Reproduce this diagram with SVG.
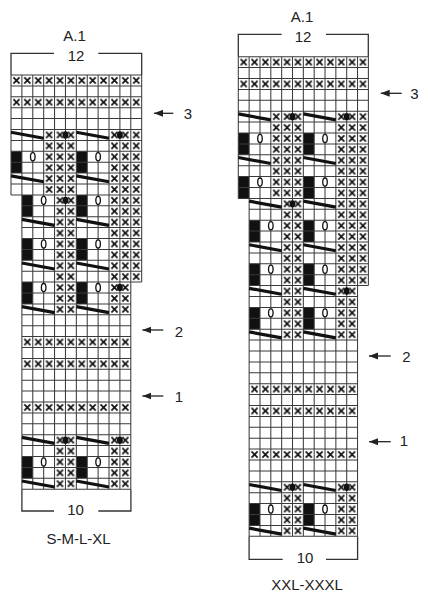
<svg xmlns="http://www.w3.org/2000/svg" xmlns:xlink="http://www.w3.org/1999/xlink" width="428" height="600" viewBox="0 0 428 600">
<style>
.x{fill:url(#xp)}
.blk{fill:#111}
.bg{fill:#fff}
.grid{fill:none;stroke:#3a3a3a;stroke-width:0.095}
.sl{fill:none;stroke:#111;stroke-width:0.29}
.o{fill:#fff;stroke:#111;stroke-width:0.12}
.dot{fill:#111}
.br{fill:none;stroke:#333;stroke-width:1.3}
.t{font-family:"Liberation Sans",Arial,sans-serif;font-size:15px;fill:#222;text-anchor:middle}
.arr{fill:none;stroke:#222;stroke-width:1.3}
</style>
<defs>
<pattern id="xp" patternUnits="userSpaceOnUse" width="1" height="1">
<path d="M0.22 0.22L0.78 0.78M0.78 0.22L0.22 0.78" stroke="#151515" stroke-width="0.16" fill="none"/>
</pattern>
<ellipse id="o" class="o" cx="0" cy="0" rx="0.21" ry="0.37"/>
<ellipse id="d" class="dot" cx="0" cy="0" rx="0.27" ry="0.34"/>
<marker id="ah" markerUnits="userSpaceOnUse" markerWidth="10" markerHeight="9" refX="9" refY="4.5" orient="auto">
<path d="M0 1L9 4.5L0 8z" fill="#222"/>
</marker>
</defs>

<g id="chart-left" transform="translate(11 75) scale(10.89 10.9)">
<path class="bg" d="M0 0H12V19H11V38H1V11H0Z"/>
<rect class="x" x="0" y="0" width="12" height="1"/>
<rect class="x" x="0" y="2" width="12" height="1"/>
<rect class="x" x="3" y="5" width="3" height="6"/>
<rect class="x" x="4" y="11" width="2" height="11"/>
<rect class="x" x="9" y="5" width="3" height="14"/>
<rect class="x" x="9" y="19" width="2" height="3"/>
<rect class="x" x="1" y="24" width="10" height="1"/>
<rect class="x" x="1" y="26" width="10" height="1"/>
<rect class="x" x="1" y="30" width="10" height="1"/>
<rect class="x" x="4" y="33" width="2" height="5"/>
<rect class="x" x="9" y="33" width="2" height="5"/>
<path class="blk" d="M0 7h1v2h-1zM6 7h1v2h-1zM1 11h1v2h-1zM6 11h1v2h-1zM1 15h1v2h-1zM6 15h1v2h-1zM1 19h1v2h-1zM6 19h1v2h-1zM1 35h1v2h-1zM6 35h1v2h-1z"/>
<path class="grid" d="M0 0H12M0 1H12M0 2H12M0 3H12M0 4H12M0 5H12M0 6H12M0 7H12M0 8H12M0 9H12M0 10H12M0 11H12M1 12H12M1 13H12M1 14H12M1 15H12M1 16H12M1 17H12M1 18H12M1 19H12M1 20H11M1 21H11M1 22H11M1 23H11M1 24H11M1 25H11M1 26H11M1 27H11M1 28H11M1 29H11M1 30H11M1 31H11M1 32H11M1 33H11M1 34H11M1 35H11M1 36H11M1 37H11M1 38H11M0 0V11M1 0V38M2 0V38M3 0V38M4 0V38M5 0V38M6 0V38M7 0V38M8 0V38M9 0V38M10 0V38M11 0V38M12 0V19"/>
<path class="sl" d="M0 5.25L3 5.8M6 5.25L9 5.8M0 9.25L3 9.8M6 9.25L9 9.8M1 13.25L4 13.8M6 13.25L9 13.8M1 17.25L4 17.8M6 17.25L9 17.8M1 21.25L4 21.8M6 21.25L9 21.8M1 33.25L4 33.8M6 33.25L9 33.8M1 37.25L4 37.8M6 37.25L9 37.8"/>
<use href="#o" x="2" y="7.5"/><use href="#o" x="8" y="7.5"/>
<use href="#o" x="3" y="11.5"/><use href="#o" x="8" y="11.5"/>
<use href="#o" x="3" y="15.5"/><use href="#o" x="8" y="15.5"/>
<use href="#o" x="3" y="19.5"/><use href="#o" x="8" y="19.5"/>
<use href="#o" x="3" y="35.5"/><use href="#o" x="8" y="35.5"/>
<use href="#d" x="5" y="5.5"/><use href="#d" x="10" y="5.5"/>
<use href="#d" x="5" y="11.5"/><use href="#d" x="10" y="19.5"/>
<use href="#d" x="5" y="33.5"/><use href="#d" x="10" y="33.5"/>
</g>

<g id="chart-right" transform="translate(238.3 56.7) scale(10.84 10.9)">
<path class="bg" d="M0 0H12V21H11V44H1V13H0Z"/>
<rect class="x" x="0" y="0" width="12" height="1"/>
<rect class="x" x="0" y="2" width="12" height="1"/>
<rect class="x" x="3" y="5" width="3" height="8"/>
<rect class="x" x="4" y="13" width="2" height="13"/>
<rect class="x" x="9" y="5" width="3" height="16"/>
<rect class="x" x="9" y="21" width="2" height="5"/>
<rect class="x" x="1" y="30" width="10" height="1"/>
<rect class="x" x="1" y="32" width="10" height="1"/>
<rect class="x" x="1" y="36" width="10" height="1"/>
<rect class="x" x="4" y="39" width="2" height="5"/>
<rect class="x" x="9" y="39" width="2" height="5"/>
<path class="blk" d="M0 7h1v2h-1zM6 7h1v2h-1zM0 11h1v2h-1zM6 11h1v2h-1zM1 15h1v2h-1zM6 15h1v2h-1zM1 19h1v2h-1zM6 19h1v2h-1zM1 23h1v2h-1zM6 23h1v2h-1zM1 41h1v2h-1zM6 41h1v2h-1z"/>
<path class="grid" d="M0 0H12M0 1H12M0 2H12M0 3H12M0 4H12M0 5H12M0 6H12M0 7H12M0 8H12M0 9H12M0 10H12M0 11H12M0 12H12M0 13H12M1 14H12M1 15H12M1 16H12M1 17H12M1 18H12M1 19H12M1 20H12M1 21H12M1 22H11M1 23H11M1 24H11M1 25H11M1 26H11M1 27H11M1 28H11M1 29H11M1 30H11M1 31H11M1 32H11M1 33H11M1 34H11M1 35H11M1 36H11M1 37H11M1 38H11M1 39H11M1 40H11M1 41H11M1 42H11M1 43H11M1 44H11M0 0V13M1 0V44M2 0V44M3 0V44M4 0V44M5 0V44M6 0V44M7 0V44M8 0V44M9 0V44M10 0V44M11 0V44M12 0V21"/>
<path class="sl" d="M0 5.25L3 5.8M6 5.25L9 5.8M0 9.25L3 9.8M6 9.25L9 9.8M1 13.25L4 13.8M6 13.25L9 13.8M1 17.25L4 17.8M6 17.25L9 17.8M1 21.25L4 21.8M6 21.25L9 21.8M1 25.25L4 25.8M6 25.25L9 25.8M1 39.25L4 39.8M6 39.25L9 39.8M1 43.25L4 43.8M6 43.25L9 43.8"/>
<use href="#o" x="2" y="7.5"/><use href="#o" x="8" y="7.5"/>
<use href="#o" x="2" y="11.5"/><use href="#o" x="8" y="11.5"/>
<use href="#o" x="3" y="15.5"/><use href="#o" x="8" y="15.5"/>
<use href="#o" x="3" y="19.5"/><use href="#o" x="8" y="19.5"/>
<use href="#o" x="3" y="23.5"/><use href="#o" x="8" y="23.5"/>
<use href="#o" x="3" y="41.5"/><use href="#o" x="8" y="41.5"/>
<use href="#d" x="5" y="5.5"/><use href="#d" x="10" y="5.5"/>
<use href="#d" x="5" y="13.5"/><use href="#d" x="10" y="21.5"/>
<use href="#d" x="5" y="39.5"/><use href="#d" x="10" y="39.5"/>
</g>

<g id="brackets">
<path class="br" d="M11 75V53.3H54M98.3 53.3H141.7V75"/>
<path class="br" d="M21.9 489.2V511H54M98.3 511H130.9V489.2"/>
<path class="br" d="M238.3 56.7V34.3H281.7M326 34.3H368.3V56.7"/>
<path class="br" d="M249.1 536.3V559.3H282.7M326 559.3H357.6V536.3"/>
</g>

<g id="connectors">
<line class="arr" x1="173.3" y1="113.3" x2="154" y2="113.3" marker-end="url(#ah)"/>
<line class="arr" x1="163.3" y1="330" x2="142.4" y2="330" marker-end="url(#ah)"/>
<line class="arr" x1="163.3" y1="396" x2="142.4" y2="396" marker-end="url(#ah)"/>
<line class="arr" x1="401.7" y1="93.3" x2="380.7" y2="93.3" marker-end="url(#ah)"/>
<line class="arr" x1="390.7" y1="356" x2="369" y2="356" marker-end="url(#ah)"/>
<line class="arr" x1="390.7" y1="441.7" x2="369" y2="441.7" marker-end="url(#ah)"/>
</g>

<g id="labels">
<text class="t" x="74.5" y="41">A.1</text>
<text class="t" x="76" y="61.3">12</text>
<text class="t" x="75.5" y="514.5">10</text>
<text class="t" x="78.5" y="543.5">S-M-L-XL</text>
<text class="t" x="188" y="119">3</text>
<text class="t" x="179" y="336.5">2</text>
<text class="t" x="179" y="401.5">1</text>
<text class="t" x="302" y="22">A.1</text>
<text class="t" x="303" y="42">12</text>
<text class="t" x="305" y="562.5">10</text>
<text class="t" x="307" y="589.5">XXL-XXXL</text>
<text class="t" x="414.5" y="99">3</text>
<text class="t" x="406.5" y="361.5">2</text>
<text class="t" x="404" y="446">1</text>
</g>
</svg>
